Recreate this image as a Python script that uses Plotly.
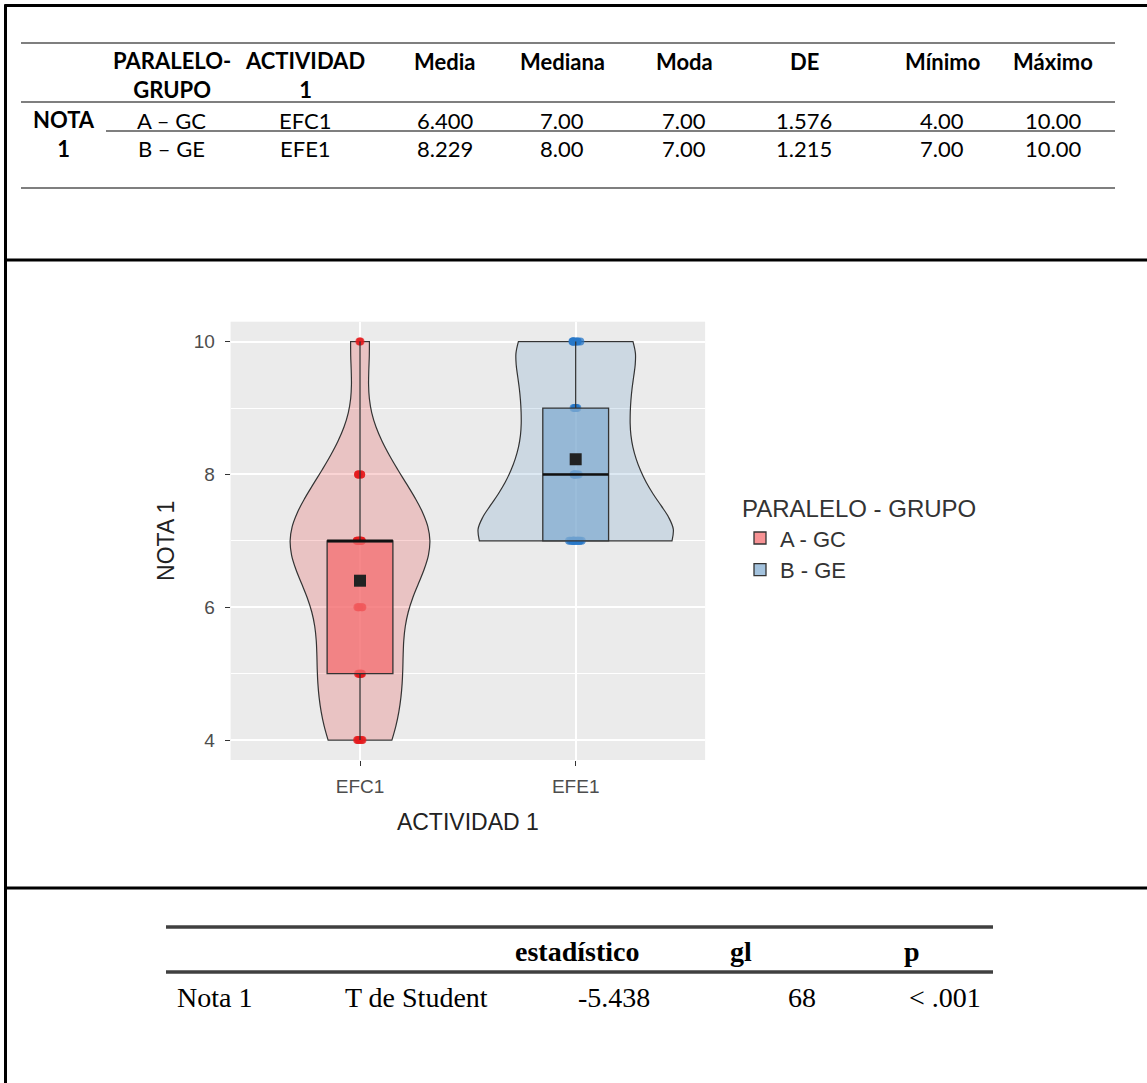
import numpy as np
import plotly.graph_objects as go

W, H = 1147, 1083

# ---------------- data ----------------
categories = ["EFC1", "EFE1"]
group_names = ["A - GC", "B - GE"]

nota_efc1 = [4, 4, 4, 4, 4,
             5, 5, 5, 5, 5, 5,
             6, 6, 6, 6, 6,
             7, 7, 7, 7, 7, 7, 7, 7, 7, 7, 7, 7,
             8, 8, 8, 8, 8,
             10, 10]
nota_efe1 = [7, 7, 7, 7, 7, 7, 7, 7, 7, 7, 7, 7, 7, 7,
             8, 8, 8, 8, 8, 8, 8,
             9, 9, 9, 9, 9, 9,
             10, 10, 10, 10, 10, 10, 10, 10]

y_tick_values = [4, 6, 8, 10]

desc_header = ["", "PARALELO-<br>GRUPO", "ACTIVIDAD<br>1", "Media", "Mediana",
               "Moda", "DE", "Mínimo", "Máximo"]
desc_row_label = "NOTA<br>1"
desc_rows = [
    ["A – GC", "EFC1", "6.400", "7.00", "7.00", "1.576", "4.00", "10.00"],
    ["B – GE", "EFE1", "8.229", "8.00", "7.00", "1.215", "7.00", "10.00"],
]

test_header = ["", "", "estadístico", "gl", "p"]
test_row = ["Nota 1", "T de Student", "-5.438", "68", "< .001"]

# ---------------- styles ----------------
violin_fill = ["rgba(228,26,28,0.19)", "rgba(55,126,184,0.17)"]
box_fill = ["rgba(244,110,112,0.75)", "rgba(132,174,210,0.75)"]
point_color = ["rgba(228,26,28,0.75)", "rgba(40,120,200,0.75)"]
violin_width = [0.648, 0.905]
jitters = [0.12, 0.08]
BOX_W = 0.305

series = [nota_efc1, nota_efe1]


def nrd0(v):
    v = np.asarray(v, float)
    q1, q3 = np.percentile(v, [25, 75])
    s = min(np.std(v, ddof=1), (q3 - q1) / 1.34)
    return 0.9 * s * len(v) ** (-0.2)


def px(x):
    return x / W


def py(y):
    return 1 - y / H


fig = go.Figure()

for i in range(2):
    vals = series[i]
    fig.add_trace(go.Violin(
        x=[categories[i]] * len(vals), y=vals, name=group_names[i],
        legendgroup=group_names[i], showlegend=False,
        width=violin_width[i], bandwidth=nrd0(vals), spanmode="hard",
        scalemode="width", fillcolor=violin_fill[i],
        line=dict(color="#333333", width=1.2),
        points="all", jitter=jitters[i], pointpos=0,
        marker=dict(color=point_color[i], size=8, line=dict(width=0)),
        box_visible=False, meanline_visible=False, hoverinfo="y",
    ))

for i in range(2):
    vals = series[i]
    fig.add_trace(go.Box(
        x=[categories[i]] * len(vals), y=vals, name=group_names[i],
        legendgroup=group_names[i], showlegend=True,
        width=BOX_W, fillcolor=box_fill[i],
        line=dict(color="#333333", width=1.3),
        boxpoints=False, whiskerwidth=0, quartilemethod="linear",
    ))
    med = float(np.median(vals))
    fig.add_shape(type="line", xref="x", yref="y",
                  x0=i - BOX_W / 2, x1=i + BOX_W / 2, y0=med, y1=med,
                  line=dict(color="#111111", width=2.6))
    fig.add_trace(go.Scatter(
        x=[categories[i]], y=[float(np.mean(vals))], mode="markers",
        marker=dict(symbol="square", size=12, color="#222222"),
        showlegend=False, hoverinfo="y",
    ))

# ---------------- axes ----------------
PL, PR, PT, PB = 230.6, 705.1, 321.7, 760.0
fig.update_layout(
    width=W, height=H, margin=dict(l=0, r=0, t=0, b=0),
    paper_bgcolor="white", plot_bgcolor="#EBEBEB",
    violinmode="overlay", boxmode="overlay",
    font=dict(family="Liberation Sans, Arial, sans-serif", color="#333333"),
    xaxis=dict(
        domain=[px(PL), px(PR)], type="category", categoryorder="array",
        categoryarray=categories, range=[-0.6, 1.6],
        showgrid=True, gridcolor="white", gridwidth=1.6, zeroline=False,
        ticks="outside", ticklen=5, tickwidth=1.4, tickcolor="#333333",
        tickfont=dict(size=19, color="#4D4D4D"), ticklabelstandoff=4,
        title=dict(text="ACTIVIDAD 1", font=dict(size=23, color="#222222"), standoff=18),
        showline=False,
    ),
    yaxis=dict(
        domain=[py(PB), py(PT)], range=[3.7, 10.3],
        tickmode="array", tickvals=y_tick_values,
        showgrid=True, gridcolor="white", gridwidth=1.6, zeroline=False,
        minor=dict(dtick=1, tick0=0, showgrid=True, gridcolor="white", gridwidth=0.7),
        ticks="outside", ticklen=5, tickwidth=1.4, tickcolor="#333333",
        tickfont=dict(size=19, color="#4D4D4D"), ticklabelstandoff=6,
        title=dict(text="NOTA 1", font=dict(size=23, color="#222222"), standoff=12),
        showline=False,
    ),
    legend=dict(
        title=dict(text="PARALELO - GRUPO", font=dict(size=24, color="#333333")),
        font=dict(size=22, color="#333333"),
        x=px(740), y=py(486), xanchor="left", yanchor="top",
        bgcolor="rgba(0,0,0,0)", tracegroupgap=0,
    ),
)

# ---------------- frame lines ----------------
def hline(x0, x1, y, color, width):
    fig.add_shape(type="line", xref="paper", yref="paper",
                  x0=px(x0), x1=px(x1), y0=py(y), y1=py(y),
                  line=dict(color=color, width=width))


def vline(x, y0, y1, color, width):
    fig.add_shape(type="line", xref="paper", yref="paper",
                  x0=px(x), x1=px(x), y0=py(y0), y1=py(y1),
                  line=dict(color=color, width=width))


hline(4.5, W, 5.5, "black", 3)
vline(5.5, 4.5, H, "black", 3)
hline(4.5, W, 260, "black", 3)
hline(4.5, W, 888, "black", 3)

# ---------------- descriptive table ----------------
GRAY = "#7F7F7F"
hline(21, 1115, 43, GRAY, 2)
hline(21, 1115, 102, GRAY, 2)
hline(106, 1115, 131, GRAY, 2)
hline(21, 1115, 188, GRAY, 2)

col_x = [64, 172, 305, 445, 562, 684, 804, 942, 1053]
tfont = "Lato, Carlito, Calibri, sans-serif"


def ann(text, x, y, size, family, bold=False, xanchor="center", color="black"):
    if bold:
        text = "<b>" + text.replace("<br>", "</b><br><b>") + "</b>"
    fig.add_annotation(text=text, x=px(x), y=py(y), xref="paper", yref="paper",
                       xanchor=xanchor, yanchor="middle", showarrow=False,
                       align="center", font=dict(size=size, family=family, color=color))


for j, h in enumerate(desc_header):
    if not h:
        continue
    yy = 74.5 if "<br>" in h else 61
    ann(h, col_x[j], yy, 22, tfont, bold=True)

ann(desc_row_label, col_x[0], 134, 22, tfont, bold=True)
row_y = [120, 148]
for r, row in enumerate(desc_rows):
    for j, v in enumerate(row):
        ann(v, col_x[j + 1], row_y[r], 22, tfont)

# ---------------- t-test table ----------------
DARK = "#404040"
hline(166, 993, 927, DARK, 3.5)
hline(166, 993, 972, DARK, 3.5)
sfont = "Liberation Serif, Times New Roman, serif"
head_x = [None, None, 577, 741, 912]
for j, h in enumerate(test_header):
    if h:
        ann(h, head_x[j], 951, 28, sfont, bold=True)
row_pos = [(175, "left"), (343, "left"), (652, "right"), (818, "right"), (983, "right")]
for j, v in enumerate(test_row):
    x, anc = row_pos[j]
    ann(v, x, 997, 28, sfont, xanchor=anc)

fig.write_html("out.html", config={"displayModeBar": False},
               post_script="document.body.style.margin='0px';")
